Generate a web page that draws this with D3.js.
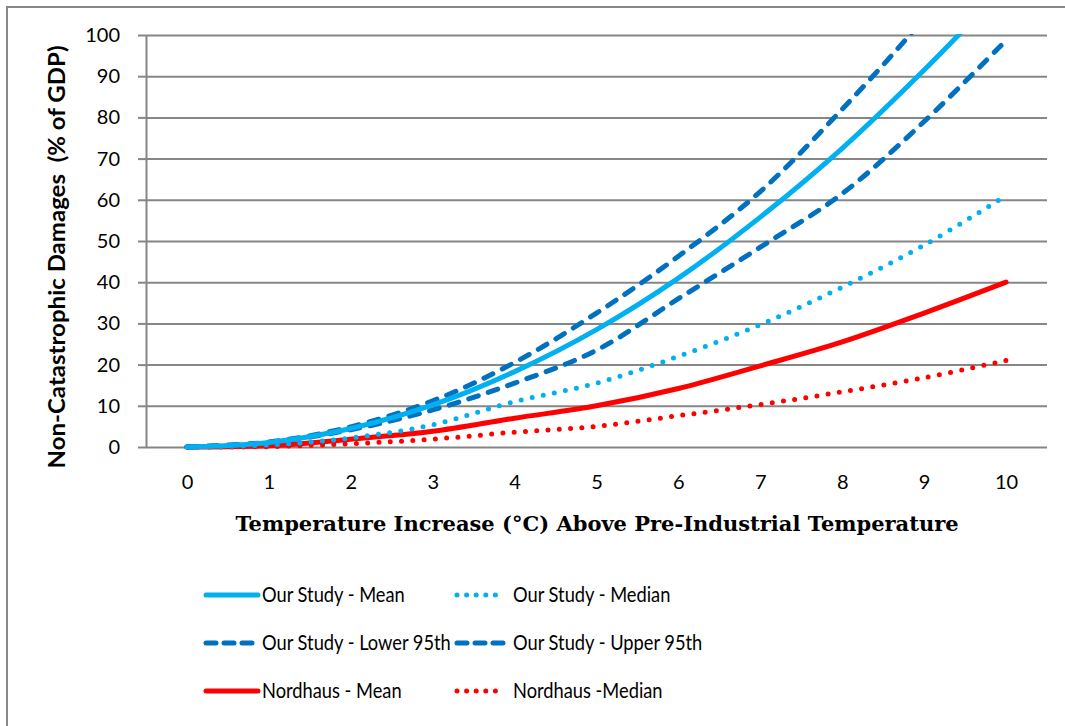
<!DOCTYPE html>
<html>
<head>
<meta charset="utf-8">
<script src="https://cdn.jsdelivr.net/npm/d3@7"></script>
<style>
  body { margin: 0; background: #fff; }
  svg { display: block; }
</style>
</head>
<body>
<div id="chart"></div>
<script>
// Temperature increase categories (deg C)
const temps = [0, 1, 2, 3, 4, 5, 6, 7, 8, 9, 10];

// Damages, % of GDP
const studyMean   = [0, 1.1, 4.5, 10.2, 18.3, 28.5, 41, 55.8, 72.5, 91.5, 112];
const studyMedian = [0, 0.5, 2.2, 5.4, 11, 15.5, 22, 29.7, 38.8, 49, 61];
const studyLower  = [0, 1.1, 4.2, 9, 15.5, 23.5, 36, 48.5, 61.5, 79, 98.7];
const studyUpper  = [0, 1.2, 4.9, 11.2, 20.5, 32.5, 46.3, 62, 82, 104, 128];
const nordMean    = [0, 0.3, 1.9, 3.8, 7, 10, 14.2, 19.7, 25.5, 32.5, 40];
const nordMedian  = [0, 0.1, 0.8, 1.9, 3.6, 5, 7.6, 10.3, 13.4, 16.8, 21];

const yTicks = [0, 10, 20, 30, 40, 50, 60, 70, 80, 90, 100];

const series = [
  { name: 'Our Study - Mean', values: studyMean, color: '#00b0f0', dash: null },
  { name: 'Our Study - Median', values: studyMedian, color: '#00b0f0', dash: '0 11.3' },
  { name: 'Our Study - Lower 95th', values: studyLower, color: '#0070c0', dash: '10 10.5' },
  { name: 'Our Study - Upper 95th', values: studyUpper, color: '#0070c0', dash: '10 10.5' },
  { name: 'Nordhaus - Mean', values: nordMean, color: '#ff0000', dash: null },
  { name: 'Nordhaus -Median', values: nordMedian, color: '#ff0000', dash: '0 11.3' }
];

const W = 1065, H = 726;
const plot = { left: 146, right: 1047, top: 35, bottom: 447 };
const sans = 'Lato, "Open Sans", sans-serif';

const svg = d3.select('#chart').append('svg')
  .attr('width', W)
  .attr('height', H);

// outer chart border (only left and top edges fall inside the picture)
svg.append('rect')
  .attr('x', 7).attr('y', 7)
  .attr('width', W + 20).attr('height', H + 20)
  .attr('fill', 'none')
  .attr('stroke', '#888')
  .attr('stroke-width', 2);

const x = d3.scalePoint()
  .domain(temps)
  .range([plot.left, plot.right])
  .padding(0.5);

const y = d3.scaleLinear()
  .domain([0, 100])
  .range([plot.bottom, plot.top]);

// gridlines
svg.append('g')
  .attr('transform', `translate(${plot.left},0)`)
  .call(d3.axisLeft(y).tickValues(yTicks).tickSize(-(plot.right - plot.left)).tickFormat(''))
  .call(g => g.select('.domain').remove())
  .call(g => g.selectAll('line').attr('stroke', '#868686').attr('stroke-width', 2));

// y axis with outer ticks
svg.append('g')
  .attr('transform', `translate(${plot.left},0)`)
  .call(d3.axisLeft(y).tickValues(yTicks).tickSize(8).tickPadding(18).tickSizeOuter(0))
  .call(g => g.select('.domain').attr('stroke', '#868686').attr('stroke-width', 2))
  .call(g => g.selectAll('line').attr('stroke', '#868686').attr('stroke-width', 2))
  .call(g => g.selectAll('text')
    .attr('fill', '#000')
    .style('font-family', sans)
    .style('font-size', '20px'));

// x axis labels (no tick marks)
svg.append('g')
  .attr('transform', `translate(0,${plot.bottom})`)
  .call(d3.axisBottom(x).tickSize(0).tickPadding(28))
  .call(g => g.select('.domain').remove())
  .call(g => g.selectAll('text')
    .attr('fill', '#000')
    .style('font-family', sans)
    .style('font-size', '20px'));

// axis titles
svg.append('text')
  .attr('transform', 'rotate(-90)')
  .attr('x', -257)
  .attr('y', 65)
  .attr('text-anchor', 'middle')
  .attr('textLength', 423)
  .attr('lengthAdjust', 'spacingAndGlyphs')
  .style('font-family', sans)
  .style('font-weight', 'bold')
  .style('font-size', '22px')
  .style('white-space', 'pre')
  .text('Non-Catastrophic Damages  (% of GDP)');

svg.append('text')
  .attr('x', 597)
  .attr('y', 531)
  .attr('text-anchor', 'middle')
  .style('font-family', '"DejaVu Serif", serif')
  .style('font-weight', 'bold')
  .style('font-size', '21px')
  .text('Temperature Increase (°C) Above Pre-Industrial Temperature');

// lines, clipped to plot area
svg.append('clipPath')
  .attr('id', 'plot-clip')
  .append('rect')
  .attr('x', plot.left).attr('y', plot.top - 1)
  .attr('width', plot.right - plot.left + 10)
  .attr('height', plot.bottom - plot.top + 10);

const line = d3.line()
  .x((d, i) => x(temps[i]))
  .y(d => y(d))
  .curve(d3.curveCatmullRom.alpha(0.5));

const lines = svg.append('g').attr('clip-path', 'url(#plot-clip)');

// red series underneath, study mean on top
const drawOrder = [5, 4, 1, 2, 3, 0];
drawOrder.forEach(i => {
  const s = series[i];
  lines.append('path')
    .datum(s.values)
    .attr('fill', 'none')
    .attr('stroke', s.color)
    .attr('stroke-width', 5)
    .attr('stroke-linecap', 'round')
    .attr('stroke-linejoin', 'round')
    .attr('stroke-dasharray', s.dash)
    .attr('d', line);
});

// legend: two columns, three rows
const legendCols = [
  { x1: 206, x2: 258, tx: 262 },
  { x1: 457, x2: 505, tx: 513 }
];
const legendRows = [595, 643, 691];
const legend = svg.append('g');
series.forEach((s, i) => {
  const c = legendCols[i % 2];
  const ly = legendRows[Math.floor(i / 2)];
  let dash = null;
  if (s.dash) dash = s.dash.startsWith('0') ? '0 9.6' : '10 8';
  legend.append('line')
    .attr('x1', c.x1).attr('x2', c.x2)
    .attr('y1', ly).attr('y2', ly)
    .attr('stroke', s.color)
    .attr('stroke-width', 5)
    .attr('stroke-linecap', 'round')
    .attr('stroke-dasharray', dash);
  legend.append('text')
    .attr('transform', `translate(${c.tx},${ly + 7}) scale(0.87,1)`)
    .style('font-family', sans)
    .style('font-size', '21px')
    .text(s.name);
});
</script>
</body>
</html>
